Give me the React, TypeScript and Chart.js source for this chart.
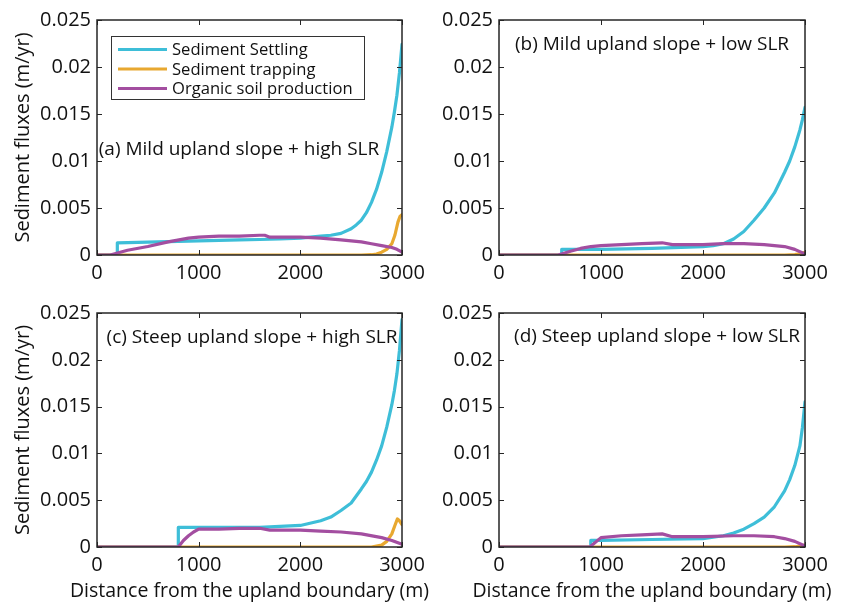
import React, { useEffect, useRef } from 'react';
import { Chart, registerables } from 'chart.js';
Chart.register(...registerables);

// ---------- data ----------
const xTickValues = [0, 1000, 2000, 3000];
const xTickLabels = ['0', '1000', '2000', '3000'];
const yTickValues = [0, 0.005, 0.01, 0.015, 0.02, 0.025];
const yTickLabels = ['0', '0.005', '0.01', '0.015', '0.02', '0.025'];
const seriesNames = ['Sediment Settling', 'Sediment trapping', 'Organic soil production'];
const panelTitles = [
  '(a) Mild upland slope + high SLR',
  '(b) Mild upland slope + low SLR',
  '(c) Steep upland slope + high SLR',
  '(d) Steep upland slope + low SLR',
];
const yAxisTitle = 'Sediment fluxes (m/yr)';
const xAxisTitle = 'Distance from the upland boundary (m)';

// (a) mild slope, high SLR
const aSettlingX = [0, 200, 200, 400, 600, 800, 1000, 1200, 1400, 1600, 1800, 2000, 2100, 2200, 2300, 2400, 2500, 2550, 2600, 2650, 2700, 2750, 2800, 2850, 2900, 2925, 2950, 2975, 3000];
const aSettlingY = [0, 0, 0.0013, 0.00135, 0.0014, 0.00145, 0.0015, 0.00155, 0.0016, 0.00165, 0.0017, 0.0018, 0.0019, 0.002, 0.0021, 0.0023, 0.0028, 0.0032, 0.0037, 0.0045, 0.0056, 0.007, 0.0088, 0.011, 0.0136, 0.0152, 0.017, 0.0194, 0.0224];
const aTrappingX = [0, 2600, 2700, 2750, 2800, 2850, 2900, 2930, 2960, 2980, 3000];
const aTrappingY = [0, 0, 0.00003, 0.0001, 0.0003, 0.0006, 0.0012, 0.0021, 0.0035, 0.0041, 0.0043];
const aOrganicX = [0, 130, 300, 500, 700, 900, 1000, 1200, 1400, 1600, 1650, 1700, 1800, 2000, 2200, 2400, 2600, 2700, 2800, 2900, 2950, 3000];
const aOrganicY = [0, 0, 0.0005, 0.0009, 0.0014, 0.0018, 0.0019, 0.002, 0.002, 0.0021, 0.0021, 0.0019, 0.0019, 0.0019, 0.0018, 0.0016, 0.0014, 0.0012, 0.001, 0.0008, 0.0006, 0.0003];

// (b) mild slope, low SLR
const bSettlingX = [0, 615, 615, 1000, 1500, 2000, 2100, 2200, 2300, 2400, 2500, 2600, 2700, 2800, 2850, 2900, 2950, 2975, 3000];
const bSettlingY = [0, 0, 0.0006, 0.0006, 0.0007, 0.0009, 0.001, 0.0012, 0.0017, 0.0025, 0.0037, 0.005, 0.0066, 0.0088, 0.01, 0.0115, 0.0133, 0.0144, 0.0157];
const bTrappingX = [0, 2800, 2900, 2950, 3000];
const bTrappingY = [0, 0, 0.00005, 0.00012, 0.0003];
const bOrganicX = [0, 580, 700, 800, 900, 1000, 1200, 1400, 1600, 1700, 1800, 2000, 2200, 2400, 2600, 2800, 2900, 3000];
const bOrganicY = [0, 0, 0.0004, 0.0007, 0.0009, 0.001, 0.0011, 0.0012, 0.0013, 0.0011, 0.0011, 0.0011, 0.0012, 0.0012, 0.0011, 0.0009, 0.0006, 0.0001];

// (c) steep slope, high SLR
const cSettlingX = [0, 800, 800, 1000, 1200, 1400, 1600, 1800, 2000, 2200, 2300, 2400, 2500, 2600, 2650, 2700, 2750, 2800, 2850, 2900, 2925, 2950, 2975, 3000];
const cSettlingY = [0, 0, 0.0021, 0.0021, 0.0021, 0.0021, 0.0021, 0.0022, 0.0023, 0.0028, 0.0032, 0.0039, 0.0047, 0.0062, 0.007, 0.008, 0.0093, 0.0108, 0.0128, 0.0152, 0.0167, 0.0185, 0.021, 0.0243];
const cTrappingX = [0, 2700, 2800, 2850, 2900, 2930, 2955, 2975, 3000];
const cTrappingY = [0, 0, 0.0002, 0.0006, 0.0014, 0.0023, 0.003, 0.0028, 0.0024];
const cOrganicX = [0, 800, 850, 900, 950, 1000, 1200, 1400, 1600, 1700, 2000, 2200, 2400, 2600, 2800, 2900, 3000];
const cOrganicY = [0, 0, 0.0007, 0.0012, 0.0016, 0.0019, 0.0019, 0.002, 0.002, 0.0018, 0.0018, 0.0017, 0.0016, 0.0014, 0.001, 0.0007, 0.0003];

// (d) steep slope, low SLR
const dSettlingX = [0, 900, 900, 1000, 1500, 2000, 2200, 2300, 2400, 2500, 2600, 2700, 2800, 2850, 2900, 2950, 2975, 3000];
const dSettlingY = [0, 0, 0.0007, 0.0007, 0.0008, 0.0009, 0.0012, 0.0015, 0.0019, 0.0025, 0.0032, 0.0043, 0.006, 0.0072, 0.0087, 0.0108, 0.0128, 0.0155];
const dTrappingX = [0, 2800, 2900, 2950, 3000];
const dTrappingY = [0, 0, 0.00003, 0.0001, 0.0002];
const dOrganicX = [0, 890, 1000, 1200, 1400, 1600, 1700, 2000, 2300, 2500, 2700, 2800, 2900, 3000];
const dOrganicY = [0, 0, 0.001, 0.0012, 0.0013, 0.0014, 0.0011, 0.0011, 0.0012, 0.0012, 0.0011, 0.0009, 0.0006, 0.0001];

// ---------- styles ----------
const COLORS = ['#3ebed8', '#e8a830', '#a34ea0'];
const FONT = '"Open Sans", "DejaVu Sans", sans-serif';
const TEXT = '#111111';

type Series = { x: number[]; y: number[] };
type PanelCfg = {
  title: string;
  series: Series[];
  box: { left: number; top: number; width: number; height: number };
  pad: { top: number; right: number };
  yWidth: number;
  xHeight: number;
  showYTitle: boolean;
  showXTitle: boolean;
  showLegend: boolean;
  titleDx: number;
  titleDy: number;
};

const panels: PanelCfg[] = [
  {
    title: panelTitles[0],
    series: [{ x: aSettlingX, y: aSettlingY }, { x: aTrappingX, y: aTrappingY }, { x: aOrganicX, y: aOrganicY }],
    box: { left: 0, top: 0, width: 440, height: 290 },
    pad: { top: 20, right: 38 },
    yWidth: 97, xHeight: 35,
    showYTitle: true, showXTitle: false, showLegend: true,
    titleDx: 142, titleDy: 130,
  },
  {
    title: panelTitles[1],
    series: [{ x: bSettlingX, y: bSettlingY }, { x: bTrappingX, y: bTrappingY }, { x: bOrganicX, y: bOrganicY }],
    box: { left: 428, top: 0, width: 429, height: 290 },
    pad: { top: 20, right: 52 },
    yWidth: 71, xHeight: 35,
    showYTitle: false, showXTitle: false, showLegend: false,
    titleDx: 153, titleDy: 25,
  },
  {
    title: panelTitles[2],
    series: [{ x: cSettlingX, y: cSettlingY }, { x: cTrappingX, y: cTrappingY }, { x: cOrganicX, y: cOrganicY }],
    box: { left: 0, top: 290, width: 440, height: 313 },
    pad: { top: 23, right: 38 },
    yWidth: 97, xHeight: 56,
    showYTitle: true, showXTitle: true, showLegend: false,
    titleDx: 155, titleDy: 25,
  },
  {
    title: panelTitles[3],
    series: [{ x: dSettlingX, y: dSettlingY }, { x: dTrappingX, y: dTrappingY }, { x: dOrganicX, y: dOrganicY }],
    box: { left: 428, top: 290, width: 429, height: 313 },
    pad: { top: 23, right: 52 },
    yWidth: 71, xHeight: 56,
    showYTitle: false, showXTitle: true, showLegend: false,
    titleDx: 158, titleDy: 24,
  },
];

function makeFramePlugin(p: PanelCfg) {
  return {
    id: 'frame',
    afterDatasetsDraw(chart: any) {
      const { ctx, chartArea: ca, scales } = chart;
      const xs = scales.x;
      const ys = scales.y;
      ctx.save();
      // inward ticks
      ctx.strokeStyle = '#262626';
      ctx.lineWidth = 1;
      const tl = 5;
      ctx.beginPath();
      xs.ticks.forEach((t: any) => {
        const px = Math.round(xs.getPixelForValue(t.value)) + 0.5;
        ctx.moveTo(px, ca.bottom);
        ctx.lineTo(px, ca.bottom - tl);
        ctx.moveTo(px, ca.top);
        ctx.lineTo(px, ca.top + tl);
      });
      ys.ticks.forEach((t: any) => {
        const py = Math.round(ys.getPixelForValue(t.value)) + 0.5;
        ctx.moveTo(ca.left, py);
        ctx.lineTo(ca.left + tl, py);
        ctx.moveTo(ca.right, py);
        ctx.lineTo(ca.right - tl, py);
      });
      ctx.stroke();
      // frame
      ctx.lineWidth = 1.5;
      ctx.strokeRect(ca.left, ca.top, ca.right - ca.left, ca.bottom - ca.top);
      // panel title
      ctx.fillStyle = TEXT;
      ctx.font = `19px ${FONT}`;
      ctx.textAlign = 'center';
      ctx.textBaseline = 'middle';
      ctx.fillText(p.title, ca.left + p.titleDx, ca.top + p.titleDy);
      // x axis title (drawn unsqueezed)
      if (p.showXTitle) {
        ctx.font = `19.5px ${FONT}`;
        ctx.fillText(xAxisTitle, (ca.left + ca.right) / 2, chart.height - 12);
      }
      // legend
      if (p.showLegend) {
        const lx = ca.left + 14;
        const ly = ca.top + 16;
        const lw = 253;
        const lh = 63;
        ctx.fillStyle = '#ffffff';
        ctx.fillRect(lx, ly, lw, lh);
        ctx.strokeStyle = '#333333';
        ctx.lineWidth = 1;
        ctx.strokeRect(lx + 0.5, ly + 0.5, lw, lh);
        ctx.font = `16.6px ${FONT}`;
        ctx.textAlign = 'left';
        chart.data.datasets.forEach((ds: any, i: number) => {
          const ry = ly + 13.5 + i * 19.5;
          ctx.strokeStyle = ds.borderColor;
          ctx.lineWidth = 3.2;
          ctx.beginPath();
          ctx.moveTo(lx + 7, ry);
          ctx.lineTo(lx + 56, ry);
          ctx.stroke();
          ctx.fillStyle = TEXT;
          ctx.fillText(ds.label, lx + 61, ry + 1);
        });
      }
      ctx.restore();
    },
  };
}

function Panel({ p }: { p: PanelCfg }) {
  const ref = useRef<HTMLCanvasElement>(null);
  useEffect(() => {
    if (!ref.current) return;
    const datasets = p.series.map((s, i) => ({
      label: seriesNames[i],
      data: s.x.map((xv, j) => ({ x: xv, y: s.y[j] })),
      borderColor: COLORS[i],
      backgroundColor: COLORS[i],
      borderWidth: 3.2,
      pointRadius: 0,
      tension: 0,
      fill: false,
      order: 2 - i,
      borderJoinStyle: 'round' as const,
      borderCapStyle: 'round' as const,
    }));
    const chart = new Chart(ref.current, {
      type: 'line',
      data: { datasets },
      options: {
        animation: false,
        responsive: false,
        maintainAspectRatio: false,
        devicePixelRatio: 1,
        layout: { padding: { top: p.pad.top, right: p.pad.right, left: 0, bottom: 0 } },
        plugins: { legend: { display: false }, tooltip: { enabled: false }, title: { display: false } },
        scales: {
          x: {
            type: 'linear',
            min: 0,
            max: 3000,
            grid: { display: false, drawTicks: false },
            border: { display: false },
            afterBuildTicks: (s: any) => {
              s.ticks = xTickValues.map((v) => ({ value: v }));
            },
            afterFit: (s: any) => {
              s.height = p.xHeight;
            },
            ticks: {
              autoSkip: false,
              maxRotation: 0,
              padding: 6,
              color: TEXT,
              font: { family: FONT, size: 20 },
              callback: (_v: any, i: number) => xTickLabels[i],
            },
            title: { display: false },
          },
          y: {
            type: 'linear',
            min: 0,
            max: 0.025,
            grid: { display: false, drawTicks: false },
            border: { display: false },
            afterBuildTicks: (s: any) => {
              s.ticks = yTickValues.map((v) => ({ value: v }));
            },
            afterFit: (s: any) => {
              s.width = p.yWidth;
            },
            ticks: {
              autoSkip: false,
              padding: 6,
              color: TEXT,
              font: { family: FONT, size: 20 },
              callback: (_v: any, i: number) => yTickLabels[i],
            },
            title: {
              display: p.showYTitle,
              text: yAxisTitle,
              color: TEXT,
              font: { family: FONT, size: 20, lineHeight: 1.2 },
              padding: { top: 11, bottom: 0 },
            },
          },
        },
      },
      plugins: [makeFramePlugin(p)],
    } as any);
    return () => chart.destroy();
  }, [p]);
  return (
    <canvas
      ref={ref}
      width={p.box.width}
      height={p.box.height}
      style={{ position: 'absolute', left: p.box.left, top: p.box.top, width: p.box.width, height: p.box.height }}
    />
  );
}

export default function App() {
  return (
    <div style={{ position: 'absolute', left: 0, top: 0, width: 857, height: 603, background: '#ffffff', overflow: 'hidden' }}>
      {panels.map((p, i) => (
        <Panel key={i} p={p} />
      ))}
    </div>
  );
}
